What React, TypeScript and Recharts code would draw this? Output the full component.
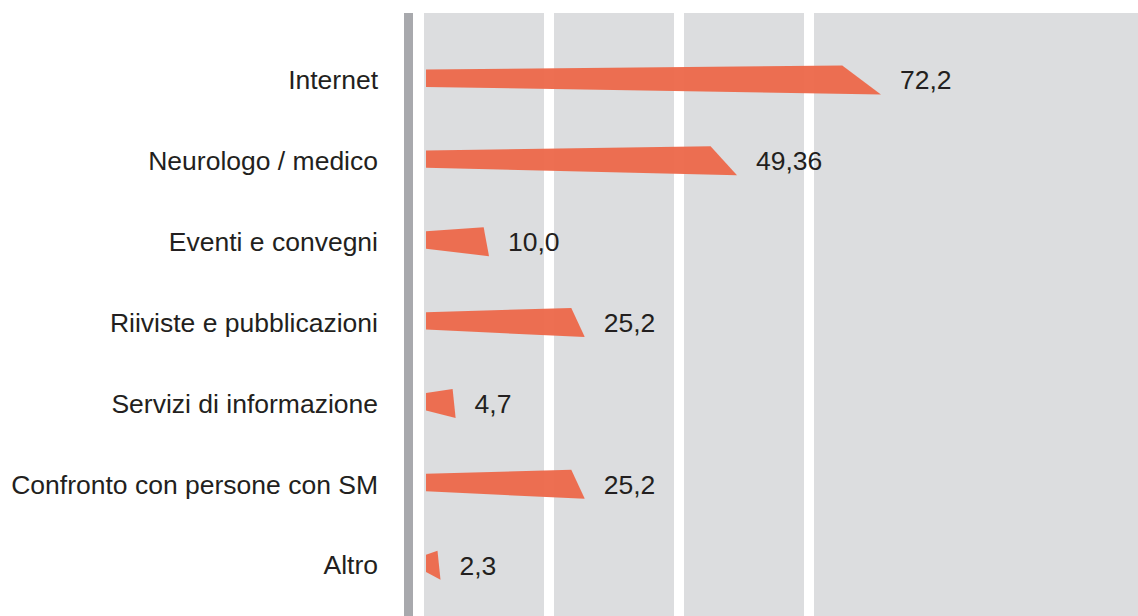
import { BarChart, Bar, XAxis, YAxis, LabelList } from "recharts";

const categories = [
  "Internet",
  "Neurologo / medico",
  "Eventi e convegni",
  "Riiviste e pubblicazioni",
  "Servizi di informazione",
  "Confronto con persone con SM",
  "Altro",
];
const values = [72.2, 49.36, 10.0, 25.2, 4.7, 25.2, 2.3];
const valueLabels = ["72,2", "49,36", "10,0", "25,2", "4,7", "25,2", "2,3"];

const data = categories.map((name, i) => ({
  name,
  value: values[i],
  label: valueLabels[i],
}));

const FONT = "'Liberation Sans', Arial, Helvetica, sans-serif";
const BAR_COLOR = "#EC6A4C";
const PANEL = "#DCDDDF";

// wedge shaped bar: thin on the left, full height and slanted on the right
function Wedge(props: any) {
  const { x, y, width, height } = props;
  if (!width || width <= 0) return null;
  const slant = Math.max(3, width * 0.085);
  const top = height * 0.14;
  const bottom = height * 0.26;
  const d = [
    `M${x},${y + top}`,
    `L${x + width - slant},${y}`,
    `L${x + width},${y + height}`,
    `L${x},${y + height - bottom}`,
    "Z",
  ].join(" ");
  return <path d={d} fill={BAR_COLOR} fillOpacity={0.97} />;
}

const columns = [
  [424, 544],
  [554, 674],
  [684, 804],
  [814, 1138],
];

export default function App() {
  return (
    <div
      style={{
        position: "absolute",
        left: 0,
        top: 0,
        width: 1138,
        height: 616,
        background: "#fff",
        overflow: "hidden",
      }}
    >
      {columns.map(([a, b]) => (
        <div
          key={a}
          style={{ position: "absolute", left: a, top: 13, width: b - a, height: 603, background: PANEL }}
        />
      ))}
      <div style={{ position: "absolute", left: 404, top: 13, width: 9, height: 603, background: "#A8A9AD" }} />
      <div style={{ position: "absolute", left: 0, top: 0 }}>
        <BarChart
          width={1138}
          height={616}
          data={data}
          layout="vertical"
          margin={{ top: 39.5, right: 0, bottom: 10.5, left: 0 }}
        >
          <XAxis type="number" domain={[0, 113]} hide />
          <YAxis
            type="category"
            dataKey="name"
            width={426}
            axisLine={false}
            tickLine={false}
            tickSize={0}
            tickMargin={48}
            interval={0}
            tick={{ fill: "#231F20", fontSize: 26.5, fontFamily: FONT }}
          />
          <Bar dataKey="value" barSize={29} shape={<Wedge />} isAnimationActive={false}>
            <LabelList
              dataKey="label"
              position="right"
              offset={19}
              fill="#231F20"
              fontSize={26.5}
              fontFamily={FONT}
            />
          </Bar>
        </BarChart>
      </div>
    </div>
  );
}
